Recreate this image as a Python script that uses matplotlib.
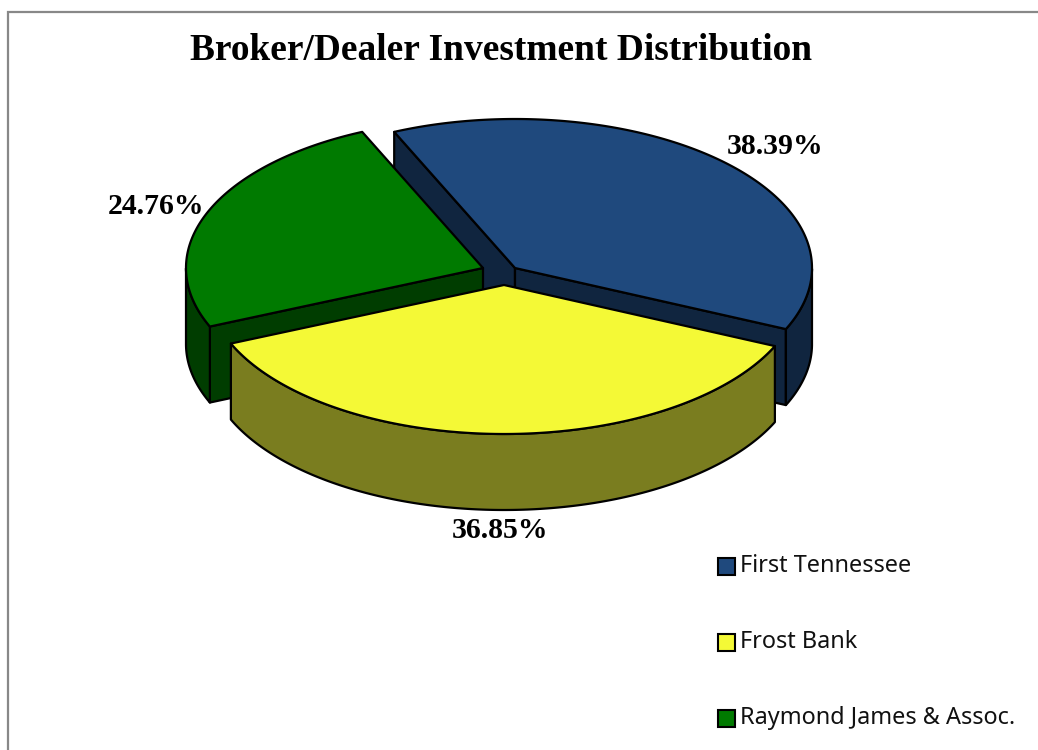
import numpy as np
import matplotlib
matplotlib.use('Agg')
import matplotlib.pyplot as plt
from matplotlib.patches import Polygon, Rectangle

# Chart data
title = 'Broker/Dealer Investment Distribution'
names = ['First Tennessee', 'Frost Bank', 'Raymond James & Assoc.']
shares = [38.39, 36.85, 24.76]
share_labels = ['38.39%', '36.85%', '24.76%']

top_colors = ['#1F497D', '#F4F936', '#007A00']
side_colors = ['#10253F', '#7A7D1F', '#003D00']

# Pie geometry, in pixels of the image
RX, RY, DEPTH = 297, 149, 76
START = 114
apexes = [(515, 268), (504, 285), (483, 268)]
label_pos = [(775, 147), (500, 531), (156, 207)]
legend_y = [566, 642, 718]


def arc(cx, cy, a0, a1):
    t = np.radians(np.linspace(a0, a1, 200))
    return np.column_stack([cx + RX * np.cos(t), cy - RY * np.sin(t)])


def draw_poly(ax, pts, color, z):
    ax.add_patch(Polygon(pts, closed=True, facecolor=color, edgecolor='black',
                         linewidth=1.6, joinstyle='round', zorder=z))


fig = plt.figure(figsize=(10.38, 7.5), dpi=100)
ax = fig.add_axes([0, 0, 1, 1])
ax.set_xlim(0, 1038)
ax.set_ylim(750, 0)
ax.axis('off')

# Grey chart frame, runs off the right and bottom of the picture
ax.add_patch(Rectangle((8, 12), 1100, 800, facecolor='white', edgecolor='#888888',
                       linewidth=1.6, zorder=0))

# Slices, back to front: blue, green, then yellow
angle = START
spans = []
for s in shares:
    spans.append((angle, angle - s * 3.6))
    angle -= s * 3.6

z = 1
for i in [0, 2, 1]:
    a0, a1 = spans[i]
    cx, cy = apexes[i]
    down = np.array([0, DEPTH])
    apex = np.array([cx, cy])
    p0 = arc(cx, cy, a0, a0 + 0.001)[0]
    p1 = arc(cx, cy, a1, a1 + 0.001)[0]

    # Inner walls, only when they face the viewer
    if np.sin(np.radians(a0 + 90)) < 0:
        draw_poly(ax, [apex, p0, p0 + down, apex + down], side_colors[i], z)
    if np.sin(np.radians(a1 - 90)) < 0:
        draw_poly(ax, [apex, p1, p1 + down, apex + down], side_colors[i], z)

    # Outer rim, only the part that faces the viewer
    t = np.linspace(a0, a1, 400)
    t = t[np.sin(np.radians(t)) <= 0]
    if len(t) > 1:
        rim = arc(cx, cy, t[0], t[-1])
        draw_poly(ax, np.vstack([rim, rim[::-1] + down]), side_colors[i], z)

    # Top face
    draw_poly(ax, np.vstack([[apex], arc(cx, cy, a0, a1)]), top_colors[i], z + 1)
    z += 2

ax.text(501, 51, title, family='Liberation Serif', weight='bold', fontsize=26.9,
        ha='center', va='center', color='black', zorder=20)

for (x, y), lab in zip(label_pos, share_labels):
    ax.text(x, y, lab, family='Liberation Serif', weight='bold', fontsize=21.4,
            ha='center', va='center', color='black', zorder=20)

# Legend
for y, name, col in zip(legend_y, names, top_colors):
    ax.add_patch(Rectangle((718, y - 8.5), 17, 17, facecolor=col, edgecolor='black',
                           linewidth=1.5, zorder=20))
    ax.text(740, y, name, family='Noto Sans', fontsize=16.9, ha='left',
            va='center', color='#111111', zorder=20)

fig.savefig('out.png', dpi=100)
